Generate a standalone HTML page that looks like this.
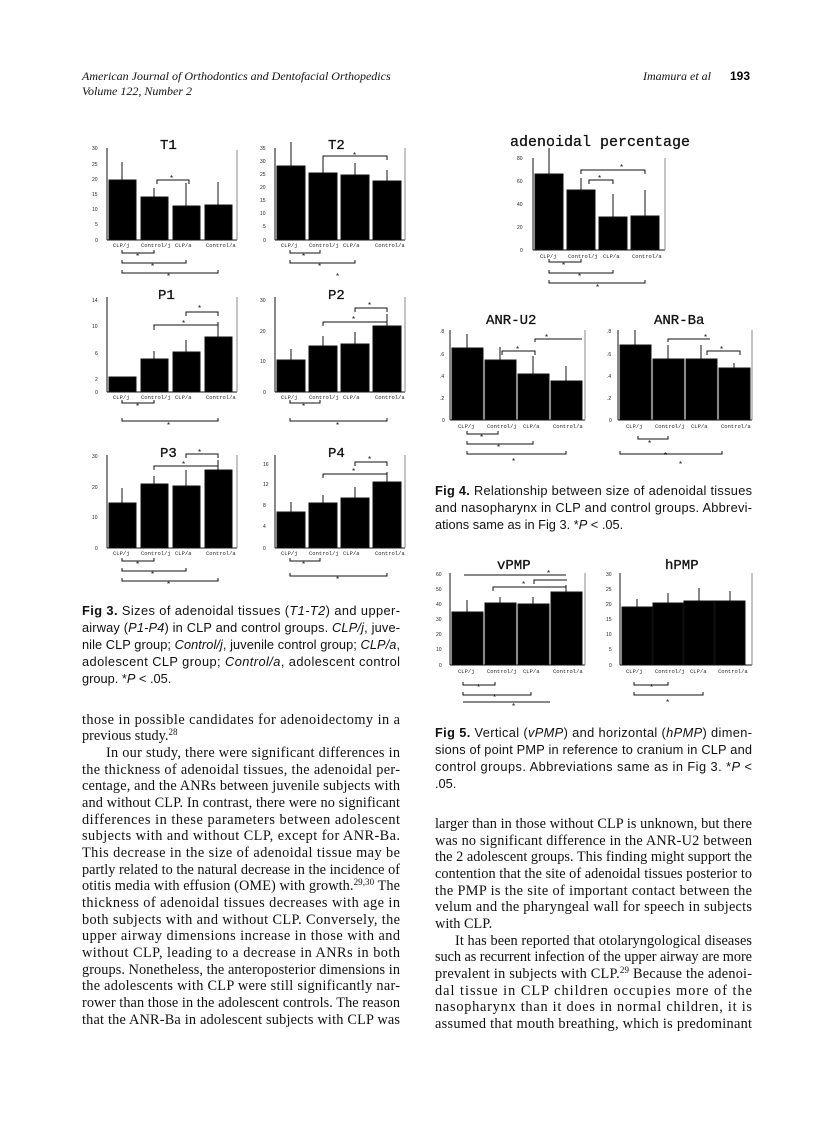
<!DOCTYPE html>
<html><head><meta charset="utf-8"><style>
html,body{margin:0;padding:0;background:#fff}
svg{display:block}
.t{font-family:"Liberation Serif",serif;font-size:14.3px;fill:#111}
.c{font-family:"Liberation Sans",sans-serif;font-size:12.8px;fill:#111}
.h{font-family:"Liberation Serif",serif;font-style:italic;font-size:12px;fill:#111}
.ti{font-family:"Liberation Mono",monospace;font-size:14px;fill:#111;stroke:#111;stroke-width:0.3}
.tk{font-family:"Liberation Sans",sans-serif;font-size:5px;fill:#222}
.xl{font-family:"Liberation Mono",monospace;font-size:5.5px;fill:#222}
.st{font-family:"Liberation Sans",sans-serif;font-size:8px;fill:#111}
</style></head><body>
<svg width="836" height="1122" viewBox="0 0 836 1122" xmlns="http://www.w3.org/2000/svg">
<rect width="836" height="1122" fill="#fff"/>
<text class="h" x="82" y="80">American Journal of Orthodontics and Dentofacial Orthopedics</text>
<text class="h" x="82" y="95">Volume 122, Number 2</text>
<text class="h" x="643" y="80">Imamura et al</text>
<text x="730" y="80" style="font-family:'Liberation Sans',sans-serif;font-weight:bold;font-size:12px">193</text>

<g stroke="#111" stroke-width="1" fill="#000">
<text class="ti" x="160" y="149">T1</text>
<line x1="107" y1="148" x2="107" y2="240"/><line x1="107" y1="240" x2="237" y2="240"/><line x1="237" y1="150" x2="237" y2="240" stroke="#888"/>
<rect x="109" y="180" width="27" height="60"/><rect x="141" y="197" width="27" height="43"/><rect x="173" y="206" width="27" height="34"/><rect x="205" y="205" width="27" height="35"/>
<line x1="122" y1="180" x2="122" y2="162"/><line x1="154" y1="197" x2="154" y2="188"/><line x1="186" y1="206" x2="186" y2="183"/><line x1="218" y1="205" x2="218" y2="182"/>
<path d="M157 184 V180 H189 V184" fill="none"/>
<path d="M122 250 V253 H154 V250 M122 260 V263 H186 V260 M122 270 V273 H218 V270" fill="none"/>

<text class="ti" x="328" y="149">T2</text>
<line x1="275" y1="148" x2="275" y2="240"/><line x1="275" y1="240" x2="405" y2="240"/><line x1="405" y1="148" x2="405" y2="240" stroke="#888"/>
<rect x="277" y="166" width="28" height="74"/><rect x="309" y="173" width="28" height="67"/><rect x="341" y="175" width="28" height="65"/><rect x="373" y="181" width="28" height="59"/>
<line x1="291" y1="166" x2="291" y2="142"/><line x1="323" y1="173" x2="323" y2="160"/><line x1="355" y1="175" x2="355" y2="163"/><line x1="387" y1="181" x2="387" y2="170"/>
<path d="M323 160 V156 H387 V160" fill="none"/>
<path d="M290 250 V253 H320 V250 M290 260 V263 H355 V260" fill="none"/>

<text class="ti" x="158" y="299">P1</text>
<line x1="107" y1="297" x2="107" y2="392"/><line x1="107" y1="392" x2="237" y2="392"/><line x1="237" y1="297" x2="237" y2="392" stroke="#888"/>
<rect x="109" y="377" width="27" height="15"/><rect x="141" y="359" width="27" height="33"/><rect x="173" y="352" width="27" height="40"/><rect x="205" y="337" width="27" height="55"/>
<line x1="154" y1="359" x2="154" y2="351"/><line x1="186" y1="352" x2="186" y2="340"/><line x1="218" y1="337" x2="218" y2="322"/>
<path d="M154 330 V325 H218 V330 M186 316 V312 H218 V316" fill="none"/>
<path d="M122 400 V403 H154 V400 M122 418 V421 H218 V418" fill="none"/>

<text class="ti" x="328" y="299">P2</text>
<line x1="275" y1="297" x2="275" y2="392"/><line x1="275" y1="392" x2="405" y2="392"/><line x1="405" y1="297" x2="405" y2="392" stroke="#888"/>
<rect x="277" y="360" width="28" height="32"/><rect x="309" y="346" width="28" height="46"/><rect x="341" y="344" width="28" height="48"/><rect x="373" y="326" width="28" height="66"/>
<line x1="291" y1="360" x2="291" y2="349"/><line x1="323" y1="346" x2="323" y2="336"/><line x1="355" y1="344" x2="355" y2="332"/><line x1="387" y1="326" x2="387" y2="314"/>
<path d="M323 326 V322 H387 V326 M355 312 V308 H387 V312" fill="none"/>
<path d="M290 400 V403 H320 V400 M290 418 V421 H387 V418" fill="none"/>

<text class="ti" x="160" y="457">P3</text>
<line x1="107" y1="455" x2="107" y2="548"/><line x1="107" y1="548" x2="237" y2="548"/><line x1="237" y1="455" x2="237" y2="548" stroke="#888"/>
<rect x="109" y="503" width="27" height="45"/><rect x="141" y="484" width="27" height="64"/><rect x="173" y="486" width="27" height="62"/><rect x="205" y="470" width="27" height="78"/>
<line x1="122" y1="503" x2="122" y2="488"/><line x1="154" y1="484" x2="154" y2="476"/><line x1="186" y1="486" x2="186" y2="470"/><line x1="218" y1="470" x2="218" y2="460"/>
<path d="M154 470 V466 H218 V470 M186 458 V454 H218 V458" fill="none"/>
<path d="M122 558 V561 H154 V558 M122 568 V571 H186 V568 M122 578 V581 H218 V578" fill="none"/>

<text class="ti" x="328" y="457">P4</text>
<line x1="275" y1="455" x2="275" y2="548"/><line x1="275" y1="548" x2="405" y2="548"/><line x1="405" y1="455" x2="405" y2="548" stroke="#888"/>
<rect x="277" y="512" width="28" height="36"/><rect x="309" y="503" width="28" height="45"/><rect x="341" y="498" width="28" height="50"/><rect x="373" y="482" width="28" height="66"/>
<line x1="291" y1="512" x2="291" y2="502"/><line x1="323" y1="503" x2="323" y2="495"/><line x1="355" y1="498" x2="355" y2="487"/><line x1="387" y1="482" x2="387" y2="472"/>
<path d="M323 478 V474 H387 V478 M355 466 V462 H387 V466" fill="none"/>
<path d="M290 558 V561 H320 V558 M290 573 V576 H387 V573" fill="none"/>

<text class="ti" x="510" y="146" style="font-size:15px">adenoidal percentage</text>
<line x1="533" y1="158" x2="533" y2="250"/><line x1="533" y1="250" x2="665" y2="250"/><line x1="665" y1="158" x2="665" y2="250" stroke="#888"/>
<rect x="535" y="174" width="28" height="76"/><rect x="567" y="190" width="28" height="60"/><rect x="599" y="217" width="28" height="33"/><rect x="631" y="216" width="28" height="34"/>
<line x1="549" y1="174" x2="549" y2="148"/><line x1="581" y1="190" x2="581" y2="178"/><line x1="613" y1="217" x2="613" y2="194"/><line x1="645" y1="216" x2="645" y2="190"/>
<path d="M581 174 V170 H645 V174 M589 184 V180 H613 V184" fill="none"/>
<path d="M549 259 V262 H581 V259 M549 270 V273 H613 V270 M549 280 V283 H645 V280" fill="none"/>

<text class="ti" x="486" y="324">ANR-U2</text>
<line x1="450" y1="330" x2="450" y2="420"/><line x1="450" y1="420" x2="585" y2="420"/><line x1="585" y1="330" x2="585" y2="420" stroke="#888"/>
<rect x="452" y="348" width="31" height="72"/><rect x="485" y="360" width="31" height="60"/><rect x="518" y="374" width="31" height="46"/><rect x="551" y="381" width="31" height="39"/>
<line x1="467" y1="348" x2="467" y2="334"/><line x1="500" y1="360" x2="500" y2="347"/><line x1="533" y1="374" x2="533" y2="356"/><line x1="566" y1="381" x2="566" y2="366"/>
<path d="M502 355 V351 H535 V355 M535 342 V339 H582" fill="none"/>
<path d="M467 431 V434 H498 V431 M467 441 V444 H533 V441 M467 451 V454 H566 V451" fill="none"/>

<text class="ti" x="654" y="324">ANR-Ba</text>
<line x1="618" y1="330" x2="618" y2="420"/><line x1="618" y1="420" x2="752" y2="420"/><line x1="752" y1="330" x2="752" y2="420" stroke="#888"/>
<rect x="620" y="345" width="31" height="75"/><rect x="653" y="359" width="31" height="61"/><rect x="686" y="359" width="31" height="61"/><rect x="719" y="368" width="31" height="52"/>
<line x1="635" y1="345" x2="635" y2="330"/><line x1="668" y1="359" x2="668" y2="345"/><line x1="701" y1="359" x2="701" y2="345"/><line x1="734" y1="368" x2="734" y2="363"/>
<path d="M668 342 V339 H710 M707 355 V351 H740 V355" fill="none"/>
<path d="M638 436 V439 H668 V436 M620 451 V454 H722 V451" fill="none"/>

<text class="ti" x="497" y="569">vPMP</text>
<line x1="450" y1="573" x2="450" y2="665"/><line x1="450" y1="665" x2="585" y2="665"/><line x1="585" y1="573" x2="585" y2="665" stroke="#888"/>
<rect x="452" y="612" width="31" height="53"/><rect x="485" y="603" width="31" height="62"/><rect x="518" y="604" width="31" height="61"/><rect x="551" y="592" width="31" height="73"/>
<line x1="467" y1="612" x2="467" y2="600"/><line x1="500" y1="603" x2="500" y2="597"/><line x1="533" y1="604" x2="533" y2="597"/><line x1="566" y1="592" x2="566" y2="585"/>
<path d="M493 591 V587 H566 V591 M534 584 V580 H567 M464 575 H566" fill="none"/>
<path d="M463 682 V685 H495 V682 M463 692 V695 H531 V692 M463 702 H550" fill="none"/>

<text class="ti" x="665" y="569">hPMP</text>
<line x1="620" y1="573" x2="620" y2="665"/><line x1="620" y1="665" x2="752" y2="665"/><line x1="752" y1="573" x2="752" y2="665" stroke="#888"/>
<rect x="622" y="607" width="30" height="58"/><rect x="653" y="603" width="30" height="62"/><rect x="684" y="601" width="30" height="64"/><rect x="715" y="601" width="30" height="64"/>
<line x1="637" y1="607" x2="637" y2="599"/><line x1="668" y1="603" x2="668" y2="593"/><line x1="699" y1="601" x2="699" y2="588"/><line x1="730" y1="601" x2="730" y2="591"/>
<path d="M634 682 V685 H668 V682 M634 692 V695 H703 V692" fill="none"/>
</g>

<g class="st">
<text x="170" y="181">*</text><text x="136" y="259">*</text><text x="151" y="269">*</text><text x="167" y="279">*</text>
<text x="353" y="158">*</text><text x="302" y="259">*</text><text x="318" y="269">*</text><text x="336" y="279">*</text>
<text x="198" y="311">*</text><text x="182" y="326">*</text><text x="136" y="409">*</text><text x="167" y="428">*</text>
<text x="368" y="308">*</text><text x="352" y="322">*</text><text x="302" y="409">*</text><text x="336" y="428">*</text>
<text x="198" y="455">*</text><text x="182" y="467">*</text><text x="136" y="567">*</text><text x="151" y="577">*</text><text x="167" y="587">*</text>
<text x="368" y="462">*</text><text x="352" y="474">*</text><text x="302" y="567">*</text><text x="336" y="582">*</text>
<text x="620" y="170">*</text><text x="598" y="181">*</text><text x="562" y="268">*</text><text x="578" y="279">*</text><text x="596" y="290">*</text>
<text x="545" y="340">*</text><text x="516" y="352">*</text><text x="480" y="440">*</text><text x="497" y="450">*</text><text x="512" y="464">*</text>
<text x="704" y="340">*</text><text x="720" y="352">*</text><text x="648" y="446">*</text><text x="664" y="458">*</text><text x="679" y="467">*</text>
<text x="547" y="576">*</text><text x="522" y="587">*</text><text x="477" y="690">*</text><text x="493" y="700">*</text><text x="512" y="709">*</text>
<text x="650" y="690">*</text><text x="666" y="705">*</text>
</g>

<g class="xl">
<text x="113" y="247">CLP/j</text><text x="141" y="247">Control/j</text><text x="175" y="247">CLP/a</text><text x="206" y="247">Control/a</text>
<text x="281" y="247">CLP/j</text><text x="309" y="247">Control/j</text><text x="343" y="247">CLP/a</text><text x="375" y="247">Control/a</text>
<text x="113" y="399">CLP/j</text><text x="141" y="399">Control/j</text><text x="175" y="399">CLP/a</text><text x="206" y="399">Control/a</text>
<text x="281" y="399">CLP/j</text><text x="309" y="399">Control/j</text><text x="343" y="399">CLP/a</text><text x="375" y="399">Control/a</text>
<text x="113" y="555">CLP/j</text><text x="141" y="555">Control/j</text><text x="175" y="555">CLP/a</text><text x="206" y="555">Control/a</text>
<text x="281" y="555">CLP/j</text><text x="309" y="555">Control/j</text><text x="343" y="555">CLP/a</text><text x="375" y="555">Control/a</text>
<text x="540" y="258">CLP/j</text><text x="568" y="258">Control/j</text><text x="603" y="258">CLP/a</text><text x="632" y="258">Control/a</text>
<text x="458" y="428">CLP/j</text><text x="487" y="428">Control/j</text><text x="523" y="428">CLP/a</text><text x="553" y="428">Control/a</text>
<text x="626" y="428">CLP/j</text><text x="655" y="428">Control/j</text><text x="691" y="428">CLP/a</text><text x="721" y="428">Control/a</text>
<text x="458" y="673">CLP/j</text><text x="487" y="673">Control/j</text><text x="523" y="673">CLP/a</text><text x="553" y="673">Control/a</text>
<text x="626" y="673">CLP/j</text><text x="655" y="673">Control/j</text><text x="690" y="673">CLP/a</text><text x="718" y="673">Control/a</text>
</g>
<g class="tk">
<text x="92" y="150">30</text><text x="92" y="166">25</text><text x="92" y="181">20</text><text x="92" y="196">15</text><text x="92" y="211">10</text><text x="95" y="226">5</text><text x="95" y="242">0</text>
<text x="260" y="150">35</text><text x="260" y="163">30</text><text x="260" y="176">25</text><text x="260" y="189">20</text><text x="260" y="202">15</text><text x="260" y="215">10</text><text x="263" y="228">5</text><text x="263" y="242">0</text>
<text x="92" y="302">14</text><text x="92" y="328">10</text><text x="95" y="355">6</text><text x="95" y="381">2</text><text x="95" y="394">0</text>
<text x="260" y="302">30</text><text x="260" y="333">20</text><text x="260" y="363">10</text><text x="263" y="394">0</text>
<text x="92" y="458">30</text><text x="92" y="489">20</text><text x="92" y="519">10</text><text x="95" y="550">0</text>
<text x="263" y="466">16</text><text x="263" y="486">12</text><text x="263" y="507">8</text><text x="263" y="528">4</text><text x="263" y="550">0</text>
<text x="517" y="160">80</text><text x="517" y="183">60</text><text x="517" y="206">40</text><text x="517" y="229">20</text><text x="520" y="252">0</text>
<text x="440" y="333">.8</text><text x="440" y="356">.6</text><text x="440" y="378">.4</text><text x="440" y="400">.2</text><text x="442" y="422">0</text>
<text x="607" y="333">.8</text><text x="607" y="356">.6</text><text x="607" y="378">.4</text><text x="607" y="400">.2</text><text x="609" y="422">0</text>
<text x="436" y="576">60</text><text x="436" y="591">50</text><text x="436" y="606">40</text><text x="436" y="621">30</text><text x="436" y="636">20</text><text x="436" y="651">10</text><text x="439" y="667">0</text>
<text x="606" y="576">30</text><text x="606" y="591">25</text><text x="606" y="606">20</text><text x="606" y="621">15</text><text x="606" y="636">10</text><text x="609" y="651">5</text><text x="609" y="667">0</text>
</g>

<g class="c">
<text x="82" y="615" textLength="318" lengthAdjust="spacing"><tspan font-weight="bold">Fig 3.</tspan> Sizes of adenoidal tissues (<tspan font-style="italic">T1-T2</tspan>) and upper-</text>
<text x="82" y="632" textLength="318" lengthAdjust="spacing">airway (<tspan font-style="italic">P1-P4</tspan>) in CLP and control groups. <tspan font-style="italic">CLP/j</tspan>, juve-</text>
<text x="82" y="649" textLength="318" lengthAdjust="spacing">nile CLP group; <tspan font-style="italic">Control/j</tspan>, juvenile control group; <tspan font-style="italic">CLP/a</tspan>,</text>
<text x="82" y="666" textLength="318" lengthAdjust="spacing">adolescent CLP group; <tspan font-style="italic">Control/a</tspan>, adolescent control</text>
<text x="82" y="683">group. *<tspan font-style="italic">P</tspan> &lt; .05.</text>
<text x="435" y="495" textLength="317" lengthAdjust="spacing"><tspan font-weight="bold">Fig 4.</tspan> Relationship between size of adenoidal tissues</text>
<text x="435" y="512" textLength="317" lengthAdjust="spacing">and nasopharynx in CLP and control groups. Abbrevi-</text>
<text x="435" y="529">ations same as in Fig 3. *<tspan font-style="italic">P</tspan> &lt; .05.</text>
<text x="435" y="737" textLength="317" lengthAdjust="spacing"><tspan font-weight="bold">Fig 5.</tspan> Vertical (<tspan font-style="italic">vPMP</tspan>) and horizontal (<tspan font-style="italic">hPMP</tspan>) dimen-</text>
<text x="435" y="754" textLength="317" lengthAdjust="spacing">sions of point PMP in reference to cranium in CLP and</text>
<text x="435" y="771" textLength="317" lengthAdjust="spacing">control groups. Abbreviations same as in Fig 3. *<tspan font-style="italic">P</tspan> &lt;</text>
<text x="435" y="788">.05.</text>
</g>

<g class="t">
<text x="82" y="724" textLength="318" lengthAdjust="spacing">those in possible candidates for adenoidectomy in a</text>
<text x="82" y="740">previous study.<tspan font-size="9" dy="-5">28</tspan></text>
<text x="106" y="757" textLength="294" lengthAdjust="spacing">In our study, there were significant differences in</text>
<text x="82" y="774" textLength="318" lengthAdjust="spacing">the thickness of adenoidal tissues, the adenoidal per-</text>
<text x="82" y="790" textLength="318" lengthAdjust="spacing">centage, and the ANRs between juvenile subjects with</text>
<text x="82" y="807" textLength="318" lengthAdjust="spacing">and without CLP. In contrast, there were no significant</text>
<text x="82" y="824" textLength="318" lengthAdjust="spacing">differences in these parameters between adolescent</text>
<text x="82" y="840" textLength="318" lengthAdjust="spacing">subjects with and without CLP, except for ANR-Ba.</text>
<text x="82" y="857" textLength="318" lengthAdjust="spacing">This decrease in the size of adenoidal tissue may be</text>
<text x="82" y="874" textLength="318" lengthAdjust="spacing">partly related to the natural decrease in the incidence of</text>
<text x="82" y="890" textLength="318" lengthAdjust="spacing">otitis media with effusion (OME) with growth.<tspan font-size="9" dy="-5">29,30</tspan><tspan dy="5"> The</tspan></text>
<text x="82" y="907" textLength="318" lengthAdjust="spacing">thickness of adenoidal tissues decreases with age in</text>
<text x="82" y="924" textLength="318" lengthAdjust="spacing">both subjects with and without CLP. Conversely, the</text>
<text x="82" y="940" textLength="318" lengthAdjust="spacing">upper airway dimensions increase in those with and</text>
<text x="82" y="957" textLength="318" lengthAdjust="spacing">without CLP, leading to a decrease in ANRs in both</text>
<text x="82" y="974" textLength="318" lengthAdjust="spacing">groups. Nonetheless, the anteroposterior dimensions in</text>
<text x="82" y="990" textLength="318" lengthAdjust="spacing">the adolescents with CLP were still significantly nar-</text>
<text x="82" y="1007" textLength="318" lengthAdjust="spacing">rower than those in the adolescent controls. The reason</text>
<text x="82" y="1024" textLength="318" lengthAdjust="spacing">that the ANR-Ba in adolescent subjects with CLP was</text>
<text x="435" y="828" textLength="317" lengthAdjust="spacing">larger than in those without CLP is unknown, but there</text>
<text x="435" y="845" textLength="317" lengthAdjust="spacing">was no significant difference in the ANR-U2 between</text>
<text x="435" y="861" textLength="317" lengthAdjust="spacing">the 2 adolescent groups. This finding might support the</text>
<text x="435" y="878" textLength="317" lengthAdjust="spacing">contention that the site of adenoidal tissues posterior to</text>
<text x="435" y="895" textLength="317" lengthAdjust="spacing">the PMP is the site of important contact between the</text>
<text x="435" y="911" textLength="317" lengthAdjust="spacing">velum and the pharyngeal wall for speech in subjects</text>
<text x="435" y="928">with CLP.</text>
<text x="455" y="945" textLength="297" lengthAdjust="spacing">It has been reported that otolaryngological diseases</text>
<text x="435" y="961" textLength="317" lengthAdjust="spacing">such as recurrent infection of the upper airway are more</text>
<text x="435" y="978" textLength="317" lengthAdjust="spacing">prevalent in subjects with CLP.<tspan font-size="9" dy="-5">29</tspan><tspan dy="5"> Because the adenoi-</tspan></text>
<text x="435" y="995" textLength="317" lengthAdjust="spacing">dal tissue in CLP children occupies more of the</text>
<text x="435" y="1011" textLength="317" lengthAdjust="spacing">nasopharynx than it does in normal children, it is</text>
<text x="435" y="1028" textLength="317" lengthAdjust="spacing">assumed that mouth breathing, which is predominant</text>
</g>
</svg>
</body></html>
